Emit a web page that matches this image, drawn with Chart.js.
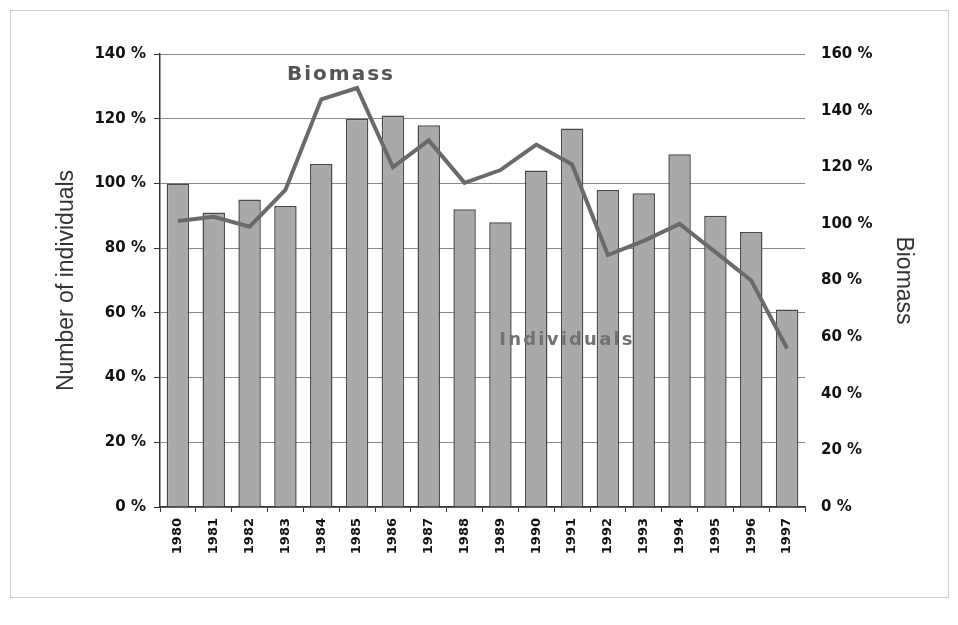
<!DOCTYPE html>
<html>
<head>
<meta charset="utf-8">
<script src="https://cdn.jsdelivr.net/npm/chart.js@4/dist/chart.umd.min.js"></script>
<style>
  html, body { margin: 0; padding: 0; background: #fff; }
  #wrap { position: relative; width: 958px; height: 625px; }
  #frame { position: absolute; left: 10px; top: 10px; width: 937px; height: 586px; border: 1px solid #cfcfcf; }
  canvas { position: absolute; left: 0; top: 0; }
</style>
</head>
<body>
<div id="wrap">
  <div id="frame"></div>
  <canvas id="c" width="958" height="625"></canvas>
</div>
<script>
// Yearly index values (percent of 1980 level)
const years = ['1980','1981','1982','1983','1984','1985','1986','1987','1988',
               '1989','1990','1991','1992','1993','1994','1995','1996','1997'];
const individuals = [100, 91, 95, 93, 106, 120, 121, 118, 92, 88, 104, 117, 98, 97, 109, 90, 85, 61];
const biomass = [101, 102.5, 99, 112, 144, 148, 120, 129.5, 114.5, 119, 128, 121, 89, 94, 100, 90, 80, 56];

const leftTicks = [0, 20, 40, 60, 80, 100, 120, 140];
const rightTicks = [0, 20, 40, 60, 80, 100, 120, 140, 160];

// In-plot series labels, anchored to scale values
const seriesLabels = [
  { text: 'Biomass', x: 4.55, y: 152.5, axis: 'y2', color: '#555', size: 20, spacing: 2 },
  { text: 'Individuals', x: 10.86, y: 51.6, axis: 'y', color: '#727272', size: 18, spacing: 2.2 }
];

const tickFont = { family: 'DejaVu Sans', weight: 'bold', size: 15 };

const labelPlugin = {
  id: 'seriesLabels',
  afterDatasetsDraw(chart) {
    const ctx = chart.ctx;
    const xs = chart.scales.x;
    ctx.save();
    seriesLabels.forEach(l => {
      const ys = chart.scales[l.axis];
      const px = xs.getPixelForValue(l.x);
      const py = ys.getPixelForValue(l.y);
      ctx.font = 'bold ' + l.size + 'px "DejaVu Sans"';
      ctx.letterSpacing = l.spacing + 'px';
      ctx.fillStyle = l.color;
      ctx.textAlign = 'center';
      ctx.textBaseline = 'middle';
      ctx.fillText(l.text, px, py);
    });
    ctx.restore();
  }
};

new Chart(document.getElementById('c'), {
  data: {
    labels: years,
    datasets: [
      {
        type: 'line',
        label: 'Biomass',
        data: biomass,
        yAxisID: 'y2',
        borderColor: '#6a6a6a',
        borderWidth: 4,
        pointRadius: 0,
        tension: 0,
        order: 0
      },
      {
        type: 'bar',
        label: 'Individuals',
        data: individuals,
        yAxisID: 'y',
        backgroundColor: '#a9a9a9',
        borderColor: '#4a4a4a',
        borderWidth: 1.5,
        barPercentage: 0.66,
        categoryPercentage: 0.95,
        order: 1
      }
    ]
  },
  options: {
    responsive: false,
    animation: false,
    layout: { padding: { top: 54, left: 0, right: 0, bottom: 0 } },
    plugins: { legend: { display: false }, tooltip: { enabled: false } },
    scales: {
      x: {
        grid: { display: true, drawOnChartArea: false, offset: true, tickLength: 5, color: '#333', lineWidth: 1 },
        border: { display: true, color: '#333', width: 1.5 },
        ticks: { color: '#111', font: { family: 'DejaVu Sans', weight: 'bold', size: 13 }, minRotation: 90, maxRotation: 90, padding: 6 },
        afterFit(s) { s.height = 118; }
      },
      y: {
        position: 'left',
        min: 0, max: 140,
        afterBuildTicks(s) { s.ticks = leftTicks.map(v => ({ value: v })); },
        ticks: { color: '#111', font: tickFont, padding: 8, callback: v => v + ' %' },
        grid: { color: '#8a8a8a', lineWidth: 1, tickLength: 6, tickColor: '#333' },
        border: { display: true, color: '#333', width: 1.5 },
        title: { display: true, text: 'Number of individuals', color: '#333',
                 font: { family: 'Liberation Sans', size: 23 }, padding: { top: 53, bottom: 0 } },
        afterFit(s) { s.width = 160; }
      },
      y2: {
        position: 'right',
        min: 0, max: 160,
        afterBuildTicks(s) { s.ticks = rightTicks.map(v => ({ value: v })); },
        ticks: { color: '#111', font: tickFont, padding: 8, callback: v => v + ' %' },
        grid: { display: false },
        border: { display: false },
        title: { display: true, text: 'Biomass', color: '#333',
                 font: { family: 'Liberation Sans', size: 23 }, padding: { top: 41, bottom: 0 } },
        afterFit(s) { s.width = 153; }
      }
    }
  },
  plugins: [labelPlugin]
});
</script>
</body>
</html>
